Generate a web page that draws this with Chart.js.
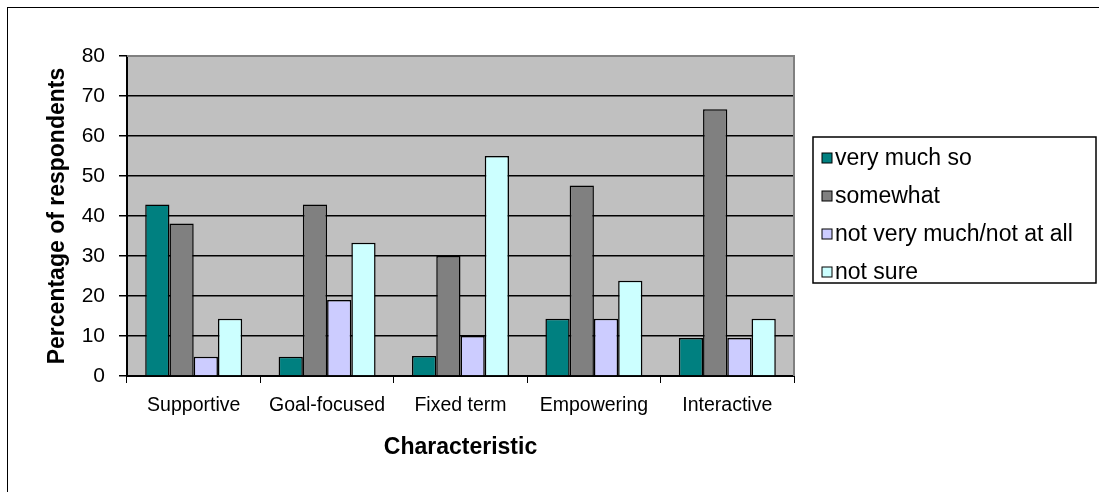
<!DOCTYPE html>
<html>
<head>
<meta charset="utf-8">
<script src="https://cdn.jsdelivr.net/npm/chart.js@4/dist/chart.umd.min.js"></script>
<style>
  html, body { margin: 0; padding: 0; background: #fff; overflow: hidden; }
  #wrap { position: relative; width: 1099px; height: 492px; overflow: hidden; }
  #wrap canvas { position: absolute; left: 0; top: 0; }
  #sheet { position: absolute; left: 7px; top: 7px; width: 1200px; height: 600px;
           border-left: 1px solid #000; border-top: 1px solid #000; pointer-events: none; }
</style>
</head>
<body>
<div id="wrap">
  <canvas id="chart" width="1099" height="492"></canvas>
  <div id="sheet"></div>
</div>
<script>
// Survey answers per coaching characteristic (percent of respondents)
const categories = ['Supportive', 'Goal-focused', 'Fixed term', 'Empowering', 'Interactive'];
const seriesNames = ['very much so', 'somewhat', 'not very much/not at all', 'not sure'];
const veryMuchSo  = [42.9, 4.8, 5.0, 14.3, 9.5];
const somewhat    = [38.1, 42.9, 30.0, 47.6, 66.7];
const notVeryMuch = [4.8, 19.0, 10.0, 14.3, 9.5];
const notSure     = [14.3, 33.3, 55.0, 23.8, 14.3];
const yMin = 0, yMax = 80, yStep = 10;
const xTitle = 'Characteristic';
const yTitle = 'Percentage of respondents';

const seriesColors = ['#008080', '#808080', '#CCCCFF', '#CCFFFF'];
const FONT = '"Liberation Sans", Arial, Helvetica, sans-serif';

Chart.defaults.font.family = FONT;
Chart.defaults.color = '#000';

// grey plot background
const plotBackground = {
  id: 'plotBackground',
  beforeDraw(chart) {
    const { ctx, chartArea: a } = chart;
    ctx.save();
    ctx.fillStyle = '#C0C0C0';
    ctx.fillRect(a.left, a.top, a.right - a.left, a.bottom - a.top);
    ctx.restore();
  }
};

// grey top and right edges of the plot area
const plotFrame = {
  id: 'plotFrame',
  beforeDatasetsDraw(chart) {
    const { ctx, chartArea: a } = chart;
    ctx.save();
    ctx.strokeStyle = '#808080';
    ctx.lineWidth = 2;
    ctx.beginPath();
    ctx.moveTo(a.left, a.top);
    ctx.lineTo(a.right, a.top);
    ctx.lineTo(a.right, a.bottom);
    ctx.stroke();
    ctx.restore();
  }
};

// boxed legend to the right of the plot
const boxLegend = {
  id: 'boxLegend',
  afterDraw(chart, args, opts) {
    const { ctx } = chart;
    const b = opts.box;
    ctx.save();
    ctx.fillStyle = '#fff';
    ctx.fillRect(b.left, b.top, b.right - b.left, b.bottom - b.top);
    ctx.strokeStyle = '#000';
    ctx.lineWidth = 1.5;
    ctx.strokeRect(b.left, b.top, b.right - b.left, b.bottom - b.top);
    ctx.font = opts.fontSize + 'px ' + FONT;
    ctx.textBaseline = 'alphabetic';
    ctx.textAlign = 'left';
    chart.data.datasets.forEach((ds, i) => {
      const base = b.top + opts.firstBaseline + i * opts.rowStep;
      const cy = base - opts.markerLift;
      const mx = b.left + opts.markerInset;
      ctx.fillStyle = ds.backgroundColor;
      ctx.fillRect(mx, cy - opts.marker / 2, opts.marker, opts.marker);
      ctx.lineWidth = 1;
      ctx.strokeStyle = '#000';
      ctx.strokeRect(mx, cy - opts.marker / 2, opts.marker, opts.marker);
      ctx.fillStyle = '#000';
      ctx.fillText(ds.label, mx + opts.marker + opts.gap, base);
    });
    ctx.restore();
  }
};

const seriesValues = [veryMuchSo, somewhat, notVeryMuch, notSure];

new Chart(document.getElementById('chart'), {
  type: 'bar',
  data: {
    labels: categories,
    datasets: seriesNames.map((name, i) => ({
      label: name,
      data: seriesValues[i],
      backgroundColor: seriesColors[i],
      borderColor: '#000',
      borderWidth: 1.5,
      categoryPercentage: 0.727,
      barPercentage: 1.0
    }))
  },
  options: {
    responsive: false,
    animation: false,
    devicePixelRatio: 1,
    layout: { padding: { left: 0, top: 56, right: 305, bottom: 0 } },
    plugins: {
      legend: { display: false },
      tooltip: { enabled: false },
      boxLegend: {
        box: { left: 813, top: 137, right: 1096, bottom: 283 },
        fontSize: 23,
        firstBaseline: 28,
        rowStep: 38,
        markerLift: 7,
        marker: 10,
        markerInset: 9,
        gap: 3
      }
    },
    scales: {
      x: {
        ticks: { font: { size: 19.5 }, color: '#000', padding: 11 },
        grid: { drawOnChartArea: false, drawTicks: true, tickLength: 7, tickColor: '#000', offset: true },
        border: { color: '#000', width: 2 },
        title: { display: true, text: xTitle, color: '#000',
                 font: { size: 23, weight: 'bold' }, padding: { top: 0, bottom: 31 } },
        afterFit(scale) { scale.height = 116; }
      },
      y: {
        min: yMin,
        max: yMax,
        ticks: { stepSize: yStep, font: { size: 21 }, color: '#000', padding: 14 },
        grid: {
          color: (c) => (c.tick && c.tick.value === yMax) ? 'rgba(0,0,0,0)' : '#000',
          lineWidth: 1.5,
          tickColor: '#000',
          tickLength: 8,
          drawTicks: true
        },
        border: { color: '#000', width: 2 },
        title: { display: true, text: yTitle, color: '#000',
                 font: { size: 23, weight: 'bold' }, padding: { top: 44, bottom: 0 } },
        afterFit(scale) { scale.width = 127; }
      }
    }
  },
  plugins: [plotBackground, plotFrame, boxLegend]
});
</script>
</body>
</html>
